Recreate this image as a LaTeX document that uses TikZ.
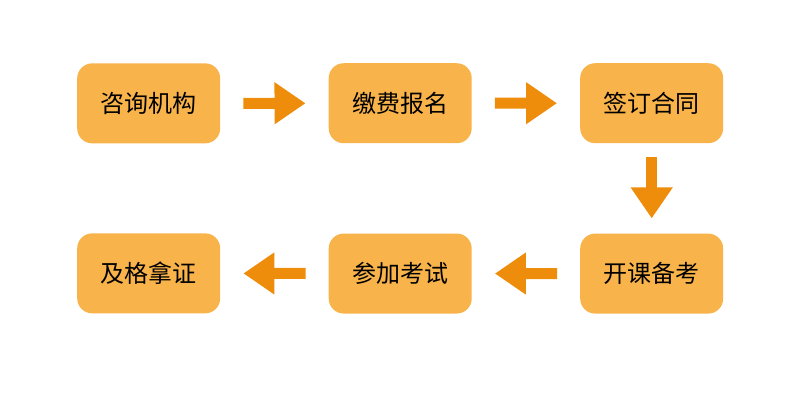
\documentclass[tikz,border=0pt]{standalone}
\usepackage{fontspec}
\setmainfont{Noto Sans CJK SC}
\usetikzlibrary{matrix,arrows.meta}
\definecolor{boxorange}{HTML}{F8B34B}
\definecolor{arroworange}{HTML}{EE8C0B}
\tikzset{
  stage/.style={fill=boxorange, draw=none, rounded corners=15pt, minimum width=143pt, minimum height=80pt, inner sep=0pt, align=center, font=\fontsize{24}{27}\selectfont},
  flow/.style={draw=arroworange, line width=11pt, -{Triangle[length=31pt,width=40pt]}, shorten <=23pt, shorten >=23pt}
}

\begin{document}
\begin{tikzpicture}[x=1pt, y=1pt]
  \useasboundingbox (0,0) rectangle (800,-400);
  \matrix[matrix of nodes, inner sep=0pt, column sep=108.5pt, row sep=90pt, anchor=north west] at (77,-63) {
    \node[stage] (consult) {咨询机构}; &
    \node[stage] (enrol) {缴费报名}; &
    \node[stage] (contract) {签订合同}; \\
    \node[stage] (certify) {及格拿证}; &
    \node[stage] (exam) {参加考试}; &
    \node[stage] (study) {开课备考}; \\
  };
  \draw[flow] (consult) -- (enrol);
  \draw[flow] (enrol) -- (contract);
  \draw[flow, shorten <=14pt, shorten >=15pt] (contract) -- (study);
  \draw[flow] (study) -- (exam);
  \draw[flow] (exam) -- (certify);
\end{tikzpicture}
\end{document}
